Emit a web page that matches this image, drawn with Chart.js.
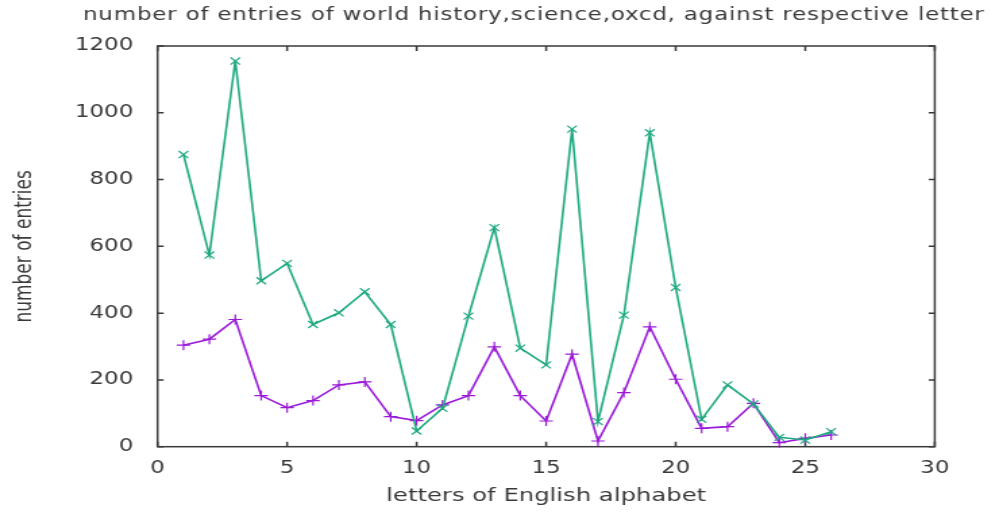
<!DOCTYPE html>
<html>
<head>
<meta charset="utf-8">
<script src="https://cdn.jsdelivr.net/npm/chart.js@4/dist/chart.umd.min.js"></script>
<style>
  html, body { margin: 0; padding: 0; background: #ffffff; overflow: hidden; }
  #wrap { position: absolute; left: 0; top: 0; height: 513px; transform-origin: 0 0; }
</style>
</head>
<body>
<div id="wrap"><canvas id="chart"></canvas></div>
<script>
// Letter index (A = 1 ... Z = 26)
const letters = [1, 2, 3, 4, 5, 6, 7, 8, 9, 10, 11, 12, 13, 14, 15, 16, 17, 18, 19, 20, 21, 22, 23, 24, 25, 26];

// Entries per starting letter, first set (drawn with + markers)
const seriesPlus = [304, 322, 381, 153, 117, 138, 185, 194, 90, 78, 125, 153, 299, 153, 77, 277, 17, 162, 359, 202, 55, 60, 130, 12, 25, 35];

// Entries per starting letter, second set (drawn with x markers)
const seriesCross = [875, 574, 1155, 497, 549, 366, 401, 464, 366, 47, 115, 391, 656, 295, 245, 951, 75, 394, 940, 477, 82, 185, 128, 28, 20, 45];

// Axis tick values
const xTicks = [0, 5, 10, 15, 20, 25, 30];
const yTicks = [0, 200, 400, 600, 800, 1000, 1200];

const TITLE = 'number of entries of world history,science,oxcd, against respective letter';
const X_TITLE = 'letters of English alphabet';
const Y_TITLE = 'number of entries';

// The plot is drawn on a narrower canvas and widened horizontally
const STRETCH = 1.35;
const PAGE_W = 991;
const CANVAS_W = PAGE_W / STRETCH;
const wrap = document.getElementById('wrap');
wrap.style.width = CANVAS_W + 'px';
wrap.style.transform = 'scaleX(' + STRETCH + ')';

const AREA_LEFT = 116.7;
const AREA_RIGHT = 692.4;
const AREA_TOP = 46;
const AREA_BOTTOM = 446.7;

const INK = '#3a3a3a';
const FONT = '"DejaVu Sans", sans-serif';

const toPoints = (vals) => letters.map((l, i) => ({ x: l, y: vals[i] }));

// Plot frame with inward, mirrored tick marks
const framePlugin = {
  id: 'frame',
  beforeDatasetsDraw(chart) {
    const { ctx, chartArea: a, scales } = chart;
    const xs = scales.x, ys = scales.y;
    ctx.save();
    ctx.strokeStyle = INK;
    ctx.lineWidth = 1.5;
    ctx.strokeRect(a.left, a.top, a.right - a.left, a.bottom - a.top);
    ctx.beginPath();
    xTicks.forEach(v => {
      const px = xs.getPixelForValue(v);
      ctx.moveTo(px, a.bottom); ctx.lineTo(px, a.bottom - 5);
      ctx.moveTo(px, a.top); ctx.lineTo(px, a.top + 5);
    });
    yTicks.forEach(v => {
      const py = ys.getPixelForValue(v);
      ctx.moveTo(a.left, py); ctx.lineTo(a.left + 4.5, py);
      ctx.moveTo(a.right, py); ctx.lineTo(a.right - 4.5, py);
    });
    ctx.stroke();
    ctx.restore();
  }
};

// Heading line above the plot
const headingPlugin = {
  id: 'heading',
  afterDraw(chart) {
    const ctx = chart.ctx;
    ctx.save();
    ctx.font = '17px ' + FONT;
    ctx.letterSpacing = '0.6px';
    ctx.fillStyle = INK;
    ctx.textAlign = 'left';
    ctx.textBaseline = 'alphabetic';
    ctx.fillText(TITLE, 61.5, 19.5);
    ctx.restore();
  }
};

new Chart(document.getElementById('chart'), {
  type: 'line',
  data: {
    datasets: [
      {
        label: 'set 2',
        data: toPoints(seriesCross),
        borderColor: '#1fa980',
        backgroundColor: '#1fa980',
        borderWidth: 1.6,
        pointStyle: 'crossRot',
        pointRadius: 5,
        pointBorderWidth: 1.2,
        tension: 0,
        clip: false
      },
      {
        label: 'set 1',
        data: toPoints(seriesPlus),
        borderColor: '#9a1ad8',
        backgroundColor: '#9a1ad8',
        borderWidth: 1.6,
        pointStyle: 'cross',
        pointRadius: 5,
        pointBorderWidth: 1.2,
        tension: 0,
        clip: false
      }
    ]
  },
  options: {
    responsive: true,
    maintainAspectRatio: false,
    animation: false,
    devicePixelRatio: 1,
    layout: { padding: { top: AREA_TOP, right: CANVAS_W - AREA_RIGHT, bottom: 0, left: 0 } },
    plugins: {
      legend: { display: false },
      title: { display: false },
      tooltip: { enabled: false }
    },
    scales: {
      x: {
        type: 'linear',
        position: 'bottom',
        min: 0,
        max: 30,
        afterBuildTicks: (s) => { s.ticks = xTicks.map(v => ({ value: v })); },
        afterFit: (s) => { s.height = 513 - AREA_BOTTOM; },
        grid: { display: false, drawTicks: false },
        border: { display: false },
        ticks: { color: INK, font: { family: FONT, size: 17 }, padding: 12, maxRotation: 0, callback: (v) => String(v) },
        title: { display: true, text: X_TITLE, color: INK, font: { family: FONT, size: 18 }, padding: { top: 0, bottom: 6 } }
      },
      y: {
        type: 'linear',
        position: 'left',
        min: 0,
        max: 1200,
        afterBuildTicks: (s) => { s.ticks = yTicks.map(v => ({ value: v })); },
        afterFit: (s) => { s.width = AREA_LEFT; },
        grid: { display: false, drawTicks: false },
        border: { display: false },
        ticks: { color: INK, font: { family: FONT, size: 17 }, padding: 18, callback: (v) => String(v) },
        title: { display: true, text: Y_TITLE, color: INK, font: { family: FONT, size: 17 }, padding: { top: 8, bottom: 0 } }
      }
    }
  },
  plugins: [framePlugin, headingPlugin]
});
</script>
</body>
</html>
